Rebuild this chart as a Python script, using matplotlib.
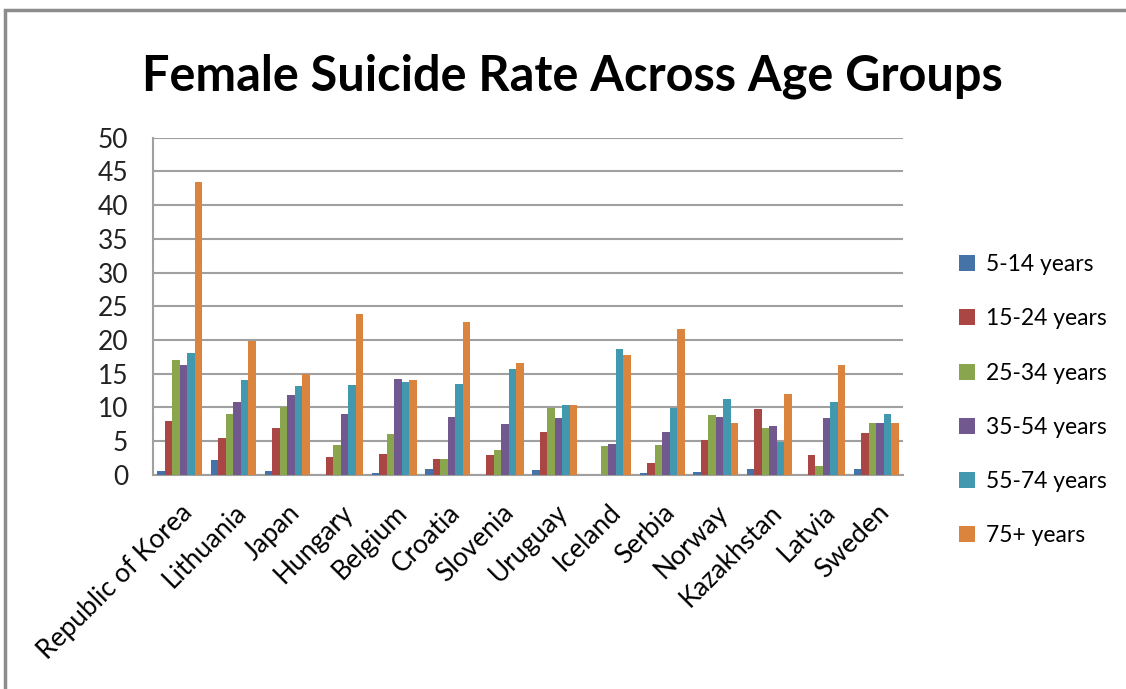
import numpy as np
import matplotlib
matplotlib.use('Agg')
import matplotlib.pyplot as plt
from matplotlib.patches import Rectangle

# --- Dados ---
paises = ['Republic of Korea', 'Lithuania', 'Japan', 'Hungary', 'Belgium', 'Croatia',
          'Slovenia', 'Uruguay', 'Iceland', 'Serbia', 'Norway', 'Kazakhstan', 'Latvia', 'Sweden']
faixas = ['5-14 years', '15-24 years', '25-34 years', '35-54 years', '55-74 years', '75+ years']

idade_5_14 = [0.5, 2.2, 0.5, 0.0, 0.3, 0.9, 0.0, 0.7, 0.0, 0.2, 0.4, 0.9, 0.0, 0.9]
idade_15_24 = [7.9, 5.4, 6.9, 2.7, 3.1, 2.4, 2.9, 6.4, 0.0, 1.7, 5.1, 9.8, 2.9, 6.2]
idade_25_34 = [17.0, 9.0, 10.1, 4.4, 6.0, 2.4, 3.7, 9.9, 4.2, 4.4, 8.8, 6.9, 1.3, 7.7]
idade_35_54 = [16.3, 10.8, 11.8, 9.0, 14.2, 8.6, 7.5, 8.4, 4.6, 6.4, 8.6, 7.3, 8.4, 7.7]
idade_55_74 = [18.1, 14.0, 13.1, 13.3, 13.8, 13.5, 15.7, 10.3, 18.7, 9.9, 11.2, 4.9, 10.8, 9.0]
idade_75 = [43.5, 19.8, 15.0, 23.9, 14.0, 22.7, 16.6, 10.3, 17.8, 21.6, 7.7, 12.0, 16.3, 7.7]

series = [idade_5_14, idade_15_24, idade_25_34, idade_35_54, idade_55_74, idade_75]
cores = ['#4572A7', '#AA4643', '#89A54E', '#71588F', '#4198AF', '#DB843D']

plt.rcParams['font.family'] = ['Lato', 'DejaVu Sans']

fig = plt.figure(figsize=(11.26, 6.89), dpi=100)
ax = fig.add_axes([0.136, 0.311, 0.666, 0.489])

# moldura cinza do gráfico (estilo Excel)
fig.patches.append(Rectangle((5 / 1126, -0.05), 1.2, 1.05 - 10 / 689,
                             transform=fig.transFigure, fill=False,
                             edgecolor='#8C8C8C', linewidth=2.5))

x = np.arange(len(paises))
largura = 0.14
for i, (valores, cor, nome) in enumerate(zip(series, cores, faixas)):
    ax.bar(x + (i - 2.5) * largura, valores, width=largura, color=cor,
           label=nome, zorder=3)

ax.set_xlim(-0.5, len(paises) - 0.5)
ax.set_ylim(0, 50)
ax.set_yticks(range(0, 51, 5))
ax.yaxis.grid(True, color='#A0A0A0', linewidth=1.5, zorder=0)
ax.set_axisbelow(True)
for lado in ['top', 'right']:
    ax.spines[lado].set_visible(False)
for lado in ['left', 'bottom']:
    ax.spines[lado].set_color('#A0A0A0')
    ax.spines[lado].set_linewidth(1.5)

ax.tick_params(axis='y', length=0, labelsize=19, pad=18, labelcolor='#222222')
ax.tick_params(axis='x', length=0, labelsize=19, pad=18)
ax.set_xticks(x)
ax.set_xticklabels(paises, rotation=45, ha='right', rotation_mode='anchor')

fig.text(0.508, 0.890, 'Female Suicide Rate Across Age Groups', ha='center', va='center',
         fontsize=35, fontweight='bold')

fig.legend(loc='center left', bbox_to_anchor=(0.833, 0.419), frameon=False,
           fontsize=16.5, handlelength=0.7, handleheight=0.7, handletextpad=0.5,
           labelspacing=1.45)

fig.savefig('out.png', dpi=100)
